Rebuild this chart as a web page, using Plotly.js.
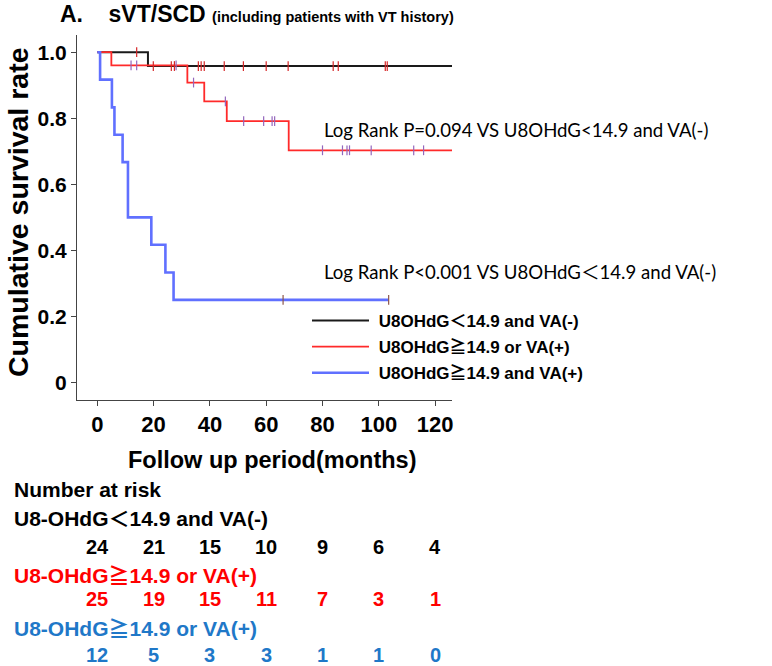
<!DOCTYPE html>
<html><head><meta charset="utf-8">
<script src="https://cdn.plot.ly/plotly-3.0.1.min.js"></script>
<style>html,body{margin:0;padding:0;background:#fff}</style>
</head><body>
<div id="chart" style="width:772px;height:666px"></div>
<script>
// ---- data ----
const blackTimes = [0, 18, 126];
const blackSurv  = [1, 0.958, 0.958];
const blackCensor = [14, 19.9, 26.3, 27.4, 35.9, 36.9, 38, 45.1, 51.9, 60, 67.8, 83.8, 85.6, 102.3, 103];

const redTimes = [0, 5, 32, 38, 46, 68, 126];
const redSurv  = [1, 0.96, 0.908, 0.851, 0.791, 0.703, 0.703];
const redCensor = [12, 14, 28, 34.2, 45.5, 52, 59.1, 62.1, 63, 80, 87.1, 88.7, 89.6, 97.3, 112.4, 115.9];

const blueTimes = [0, 1, 5.2, 6.1, 9, 10.9, 19.2, 24.2, 27.1, 103.5];
const blueSurv  = [1, 0.917, 0.833, 0.75, 0.667, 0.5, 0.417, 0.333, 0.25, 0.25];
const blueCensor = [66, 103.5];

const riskTimes = [0, 20, 40, 60, 80, 100, 120];
const riskBlack = [24, 21, 15, 10, 9, 6, 4];
const riskRed   = [25, 19, 15, 11, 7, 3, 1];
const riskBlue  = [12, 5, 3, 3, 1, 1, 0];

const yTickVals = [0, 0.2, 0.4, 0.6, 0.8, 1.0];
const yTickText = ['0', '0.2', '0.4', '0.6', '0.8', '1.0'];
const xTickVals = [0, 20, 40, 60, 80, 100, 120];

const legendNames = ['U8OHdG＜14.9 and VA(-)', 'U8OHdG≧14.9 or VA(+)', 'U8OHdG≧14.9 and VA(+)'];
const riskLabels = ['U8-OHdG＜14.9 and VA(-)', 'U8-OHdG≧14.9 or VA(+)', 'U8-OHdG≧14.9 or VA(+)'];

// ---- helpers ----
function stepValue(times, surv, t) {
  let v = surv[0];
  for (let i = 0; i < times.length; i++) { if (times[i] <= t) v = surv[i]; }
  return v;
}
const M = {l: 77, r: 320, t: 35, b: 266};
const W = 772, H = 666;
const pw = W - M.l - M.r, ph = H - M.t - M.b;
const px = p => (p - M.l) / pw;
const py = p => (H - M.b - p) / ph;

const ARIAL = 'Liberation Sans, Arial, Noto Sans CJK JP, sans-serif';
const CAL = 'Lato, Carlito, Calibri, Noto Sans CJK JP, sans-serif';
const BLACK = '#1a1a1a', RED = '#ff2a2a', BLUE = '#6070ff', TICKBLUE = '#5a78d8';
const TXTRED = '#ff0000', TXTBLUE = '#1f78c8';

const traces = [
  {x: blackTimes, y: blackSurv, mode: 'lines', line: {shape: 'hv', color: BLACK, width: 2}, name: '&nbsp;' + legendNames[0], legendgroup: 'a', hoverinfo: 'skip'},
  {x: redTimes, y: redSurv, mode: 'lines', line: {shape: 'hv', color: RED, width: 1.8}, name: '&nbsp;' + legendNames[1], legendgroup: 'b', hoverinfo: 'skip'},
  {x: blueTimes, y: blueSurv, mode: 'lines', line: {shape: 'hv', color: BLUE, width: 2.6}, name: '&nbsp;' + legendNames[2], legendgroup: 'c', hoverinfo: 'skip'},
  {x: blackCensor, y: blackCensor.map(t => stepValue(blackTimes, blackSurv, t)), mode: 'markers', showlegend: false,
   marker: {symbol: 'line-ns-open', size: 7, line: {color: TICKBLUE, width: 1.2}}},
  {x: redCensor, y: redCensor.map(t => stepValue(redTimes, redSurv, t)), mode: 'markers', showlegend: false,
   marker: {symbol: 'line-ns-open', size: 7, line: {color: RED, width: 1.2}}},
  {x: blueCensor, y: blueCensor.map(t => stepValue(blueTimes, blueSurv, t)), mode: 'markers', showlegend: false,
   marker: {symbol: 'line-ns-open', size: 7, line: {color: BLUE, width: 1.2}}}
];

const ann = [];
function txt(text, x, y, size, color, opts) {
  ann.push(Object.assign({text: text, x: x, y: y, xref: 'paper', yref: 'paper', showarrow: false,
    xanchor: 'left', yanchor: 'middle', font: {family: ARIAL, size: size, color: color, weight: 'bold'}}, opts || {}));
}
// axis titles
txt('Cumulative survival rate', px(18), py(213), 28.5, '#000', {xanchor: 'center', textangle: -90});
txt('Follow up period(months)', px(272), py(460), 23.5, '#000', {xanchor: 'center'});
// Log rank annotations
ann.push({text: 'Log Rank P=0.094 VS U8OHdG<14.9 and VA(-)', x: px(322), y: py(130), xref: 'paper', yref: 'paper',
  showarrow: false, xanchor: 'left', yanchor: 'middle', font: {family: CAL, size: 18.6, color: '#000'}});
ann.push({text: 'Log Rank P<0.001 VS U8OHdG＜14.9 and VA(-)', x: px(322), y: py(272), xref: 'paper', yref: 'paper',
  showarrow: false, xanchor: 'left', yanchor: 'middle', font: {family: CAL, size: 18.6, color: '#000'}});
// Number at risk table
txt('Number at risk', px(12), py(489), 21, '#000');
txt(riskLabels[0], px(12), py(518), 21, '#000');
txt(riskLabels[1], px(12), py(575), 21, TXTRED);
txt(riskLabels[2], px(12), py(628), 21, TXTBLUE);
const rows = [[riskBlack, 547, '#000'], [riskRed, 599, TXTRED], [riskBlue, 655, TXTBLUE]];
rows.forEach(([vals, yy, col]) => {
  vals.forEach((v, i) => {
    ann.push({text: String(v), x: riskTimes[i], y: py(yy), xref: 'x', yref: 'paper', showarrow: false,
      xanchor: 'center', yanchor: 'middle', font: {family: ARIAL, size: 20, color: col, weight: 'bold'}});
  });
});

const layout = {
  width: W, height: H, margin: M,
  paper_bgcolor: '#fff', plot_bgcolor: '#fff',
  title: {text: 'A.&nbsp;&nbsp;&nbsp;&nbsp;sVT/SCD <span style="font-size:14.5px">(including patients with VT history)</span>',
    x: 60 / W, xanchor: 'left', xref: 'container', y: 1 - 14 / H, yanchor: 'middle', yref: 'container',
    font: {family: ARIAL, size: 23, color: '#000', weight: 'bold'}},
  xaxis: {range: [-7.2, 126], tickvals: xTickVals, ticks: 'outside', ticklen: 5, tickcolor: '#444',
    showline: true, linecolor: '#444', linewidth: 1, zeroline: false, showgrid: false,
    tickfont: {family: ARIAL, size: 22, color: '#000', weight: 'bold'}},
  yaxis: {range: [-0.053, 1.052], tickvals: yTickVals, ticktext: yTickText, ticks: 'outside', ticklen: 5, tickcolor: '#444',
    showline: true, linecolor: '#444', linewidth: 1, zeroline: false, showgrid: false,
    tickfont: {family: ARIAL, size: 21, color: '#000', weight: 'bold'}},
  showlegend: true,
  legend: {x: px(307), y: py(303), xanchor: 'left', yanchor: 'top', bgcolor: 'rgba(0,0,0,0)',
    itemwidth: 57, tracegroupgap: 1, traceorder: 'grouped',
    font: {family: ARIAL, size: 17, color: '#000', weight: 'bold'}},
  annotations: ann
};

Plotly.newPlot('chart', traces, layout, {displayModeBar: false, staticPlot: true});
</script>
</body></html>
